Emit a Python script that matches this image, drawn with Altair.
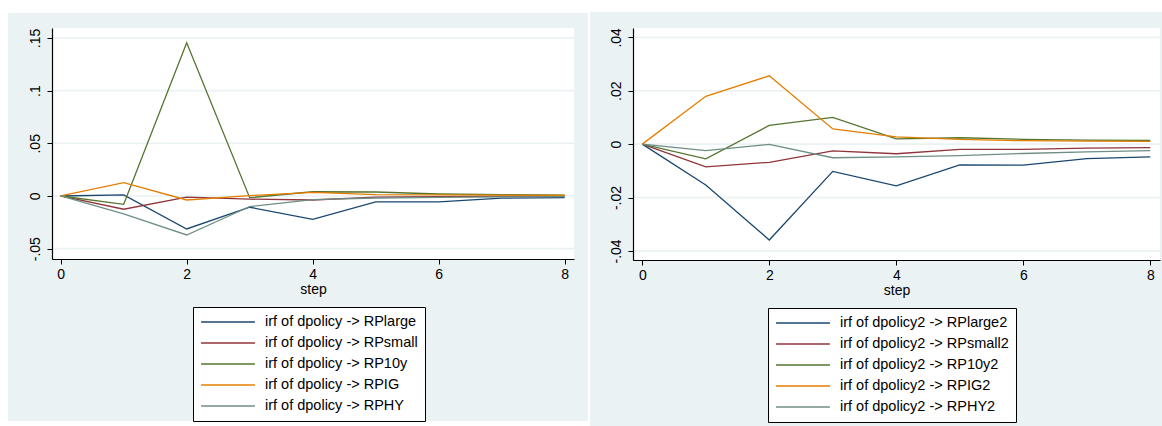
import altair as alt
import pandas as pd

# Impulse-response horizons
steps = [0, 1, 2, 3, 4, 5, 6, 7, 8]

# Left panel: responses to a dpolicy shock
left_names = [
    "irf of dpolicy -> RPlarge",
    "irf of dpolicy -> RPsmall",
    "irf of dpolicy -> RP10y",
    "irf of dpolicy -> RPIG",
    "irf of dpolicy -> RPHY",
]
rp_large = [0, 0.001, -0.0313, -0.0107, -0.0221, -0.0055, -0.0055, -0.0020, -0.0016]
rp_small = [0, -0.0126, -0.0010, -0.0030, -0.0038, -0.0010, -0.0006, -0.0003, -0.0002]
rp_10y = [0, -0.0079, 0.1453, -0.0016, 0.0040, 0.0038, 0.0019, 0.0013, 0.0007]
rp_ig = [0, 0.0126, -0.0038, 0.0004, 0.0035, 0.0013, 0.0010, 0.0008, 0.0006]
rp_hy = [0, -0.0170, -0.0370, -0.0100, -0.0035, -0.0019, -0.0013, -0.0009, -0.0006]
left_values = [rp_large, rp_small, rp_10y, rp_ig, rp_hy]

# Right panel: responses to a dpolicy2 shock
right_names = [
    "irf of dpolicy2 -> RPlarge2",
    "irf of dpolicy2 -> RPsmall2",
    "irf of dpolicy2 -> RP10y2",
    "irf of dpolicy2 -> RPIG2",
    "irf of dpolicy2 -> RPHY2",
]
rp_large2 = [0, -0.0153, -0.0359, -0.0102, -0.0156, -0.0078, -0.0079, -0.0054, -0.0048]
rp_small2 = [0, -0.0085, -0.0068, -0.0025, -0.0036, -0.0020, -0.0020, -0.0015, -0.0013]
rp_10y2 = [0, -0.0055, 0.0070, 0.0100, 0.0020, 0.0024, 0.0018, 0.0015, 0.0014]
rp_ig2 = [0, 0.0179, 0.0256, 0.0057, 0.0027, 0.0018, 0.0013, 0.0011, 0.0010]
rp_hy2 = [0, -0.0024, -0.0001, -0.0051, -0.0048, -0.0043, -0.0035, -0.0029, -0.0024]
right_values = [rp_large2, rp_small2, rp_10y2, rp_ig2, rp_hy2]

x_ticks = [0, 2, 4, 6, 8]
left_yticks = [-0.05, 0, 0.05, 0.1, 0.15]
right_yticks = [-0.04, -0.02, 0, 0.02, 0.04]

# Stata s2color palette
line_colors = ["#1a476f", "#90353b", "#55752f", "#e37e00", "#6e8e84"]
BG = "#eaf2f3"
FONT = "Liberation Sans"

# Stata-style tick labels: ".05", "-.05", "0"
Y_LABEL_EXPR = (
    "datum.value == 0 ? '0' : "
    "replace(replace(format(datum.value, '~g'), '0.', '.'), '\u2212', '-')"
)


def long_frame(names, values):
    rows = []
    for name, vals in zip(names, values):
        for s, v in zip(steps, vals):
            rows.append({"series": name, "step": s, "irf": v})
    return pd.DataFrame(rows)


def panel(names, values, yticks, xdomain, ydomain, w, h, outer, back, legend_xy):
    one = pd.DataFrame({"k": [0]})

    # panel canvas and Stata-like light background
    outer_rect = alt.Chart(one).mark_rect(color="white").encode(
        x=alt.value(outer[0]), x2=alt.value(outer[1]),
        y=alt.value(outer[2]), y2=alt.value(outer[3]),
    )
    back_rect = alt.Chart(one).mark_rect(color=BG).encode(
        x=alt.value(back[0]), x2=alt.value(back[1]),
        y=alt.value(back[2]), y2=alt.value(back[3]),
    )
    plot_rect = alt.Chart(one).mark_rect(color="white").encode(
        x=alt.value(0), x2=alt.value(w), y=alt.value(0), y2=alt.value(h),
    )

    yscale = alt.Scale(domain=ydomain, nice=False, zero=False)
    xscale = alt.Scale(domain=xdomain, nice=False, zero=False)

    y_axis = alt.Axis(
        values=yticks, labelExpr=Y_LABEL_EXPR, title=None, grid=False,
        tickSize=5, labelPadding=12, labelAngle=270,
        labelAlign="center", labelBaseline="middle",
        domainColor="black", tickColor="black", domainWidth=1.2,
        labelFont=FONT, labelFontSize=14, labelColor="black",
        zindex=1,
    )
    x_axis = alt.Axis(
        values=x_ticks, format="d", title="step", grid=False,
        tickSize=5, labelPadding=3, titlePadding=1,
        domainColor="black", tickColor="black", domainWidth=1.2,
        labelFont=FONT, labelFontSize=14, labelColor="black",
        titleFont=FONT, titleFontSize=14, titleFontWeight="normal",
        titleColor="black", zindex=1,
    )

    grid = alt.Chart(pd.DataFrame({"irf": yticks})).mark_rule(
        color=BG, strokeWidth=1.6
    ).encode(
        y=alt.Y("irf:Q", scale=yscale, axis=y_axis),
        x=alt.value(0), x2=alt.value(w),
    )

    lines = alt.Chart(long_frame(names, values)).mark_line(strokeWidth=1.3).encode(
        x=alt.X("step:Q", scale=xscale, axis=x_axis),
        y=alt.Y("irf:Q", scale=yscale, axis=y_axis),
        color=alt.Color(
            "series:N",
            scale=alt.Scale(domain=names, range=line_colors),
            sort=names,
            legend=alt.Legend(
                title=None, orient="none",
                legendX=legend_xy[0], legendY=legend_xy[1],
                direction="vertical", fillColor="white", strokeColor="black",
                padding=7, labelFont=FONT, labelFontSize=14.5,
                labelColor="black", symbolType="stroke", symbolSize=2900,
                symbolStrokeWidth=1.5, labelOffset=9, rowPadding=5,
                clipHeight=16, labelLimit=400, zindex=1,
            ),
        ),
        order=alt.Order("step:Q"),
    )

    return alt.layer(outer_rect, back_rect, plot_rect, grid, lines).properties(
        width=w, height=h
    )


left = panel(
    left_names, left_values, left_yticks,
    xdomain=[-0.138, 8.148], ydomain=[-0.0598, 0.1594],
    w=522, h=231,
    outer=(-52, 537, -28, 398), back=(-44, 536, -15, 393),
    legend_xy=(141, 279),
)

right = panel(
    right_names, right_values, right_yticks,
    xdomain=[-0.146, 8.153], ydomain=[-0.0434, 0.0435],
    w=527, h=232,
    outer=(-44, 529, -23, 403), back=(-43, 529, -16, 403),
    legend_xy=(135, 280),
)

chart = (
    alt.hconcat(left, right, spacing=0)
    .resolve_scale(color="independent", x="independent", y="independent")
    .properties(padding=0, background="white")
    .configure_view(stroke=None)
)

chart.save("out.html", embed_options={"renderer": "svg", "actions": False})
